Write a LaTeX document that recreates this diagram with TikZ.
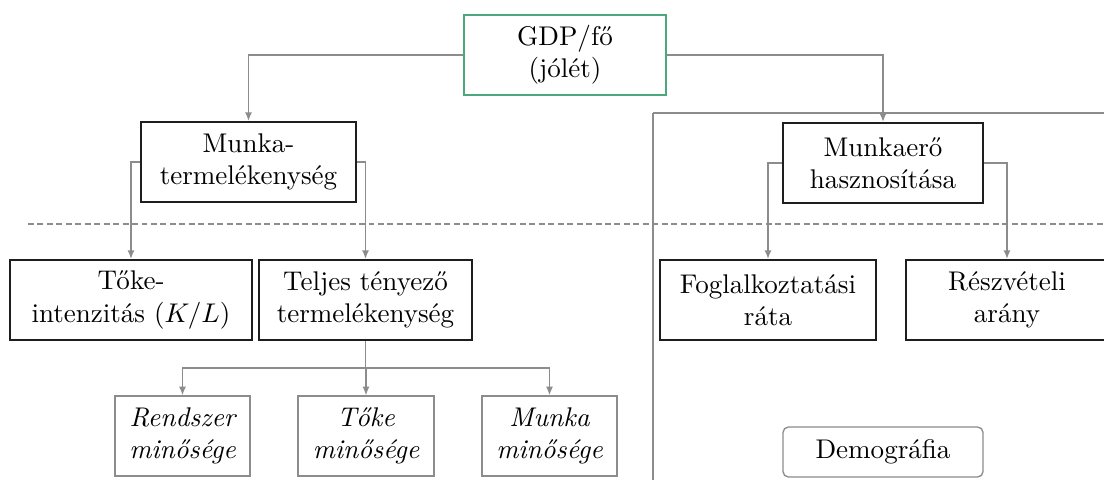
\documentclass[tikz,border=0pt]{standalone}
\usetikzlibrary{arrows.meta}
\definecolor{gdpgreen}{RGB}{74,168,124}
\definecolor{conngray}{RGB}{140,140,140}
\definecolor{boxdark}{RGB}{30,30,30}
\begin{document}
\begin{tikzpicture}[x=0.37pt,y=-0.37pt,
  mainbox/.style={draw=boxdark,line width=0.75pt,inner sep=0pt,align=center,minimum height=29.6pt,font=\normalsize},
  gdpbox/.style={draw=gdpgreen,line width=1pt,inner sep=0pt,align=center,minimum height=29.6pt,minimum width=74.7pt},
  subbox/.style={draw=conngray,line width=0.5pt,inner sep=0pt,align=center,minimum height=29.6pt,minimum width=50pt,font=\itshape},
  demobox/.style={draw=conngray,line width=0.5pt,rounded corners=2pt,inner sep=0pt,minimum height=18.5pt,minimum width=74pt},
  conn/.style={draw=conngray,line width=0.55pt,-{Latex[length=3.2pt,width=2.6pt]}},
  sep/.style={draw=conngray,line width=0.75pt,dash pattern=on 2.2pt off 1.3pt},
  frame/.style={draw=conngray,line width=0.55pt}]
\useasboundingbox (0,0) rectangle (1104,479);
\clip (0,0) rectangle (1104,479);
% frame and separator
\draw[frame] (653,113) -- (1130,113);
\draw[frame] (653,113) -- (653,500);
\draw[sep] (28,224) -- (1110,224);
% nodes
\node[gdpbox] (gdp) at (565,55) {GDP/fő\\(jólét)};
\node[mainbox,minimum width=79.6pt] (mt) at (248.5,162) {Munka-\\termelékenység};
\node[mainbox,minimum width=74pt] (mh) at (883,163) {Munkaerő\\hasznosítása};
\node[mainbox,minimum width=89.5pt] (ti) at (131,300) {Tőke-\\intenzitás ($K/L$)};
\node[mainbox,minimum width=78.8pt] (tfp) at (365.5,300) {Teljes tényező\\termelékenység};
\node[mainbox,minimum width=79.9pt] (fog) at (768,300) {Foglalkoztatási\\ráta};
\node[mainbox,minimum width=74.7pt] (res) at (1007,300) {Részvételi\\arány};
\node[subbox] (rm) at (182.5,436) {Rendszer\\minősége};
\node[subbox,minimum width=50.3pt] (tm) at (366,436) {Tőke\\minősége};
\node[subbox] (mm) at (549.5,436) {Munka\\minősége};
\node[demobox] (demo) at (883,452) {Demográfia};
% connectors
\draw[conn] (gdp.west) -| (mt.north);
\draw[conn] (gdp.east) -| (mh.north);
\draw[conn] (mt.west) -| (ti.north);
\draw[conn] (mt.east) -| (tfp.north);
\draw[conn] (mh.west) -| (fog.north);
\draw[conn] (mh.east) -| (res.north);
\coordinate (br) at (365.5,368);
\draw[conn] (tfp.south) -- (br) -| (rm.north);
\draw[conn] (tfp.south) -- (br) -| (tm.north);
\draw[conn] (tfp.south) -- (br) -| (mm.north);
\end{tikzpicture}
\end{document}
